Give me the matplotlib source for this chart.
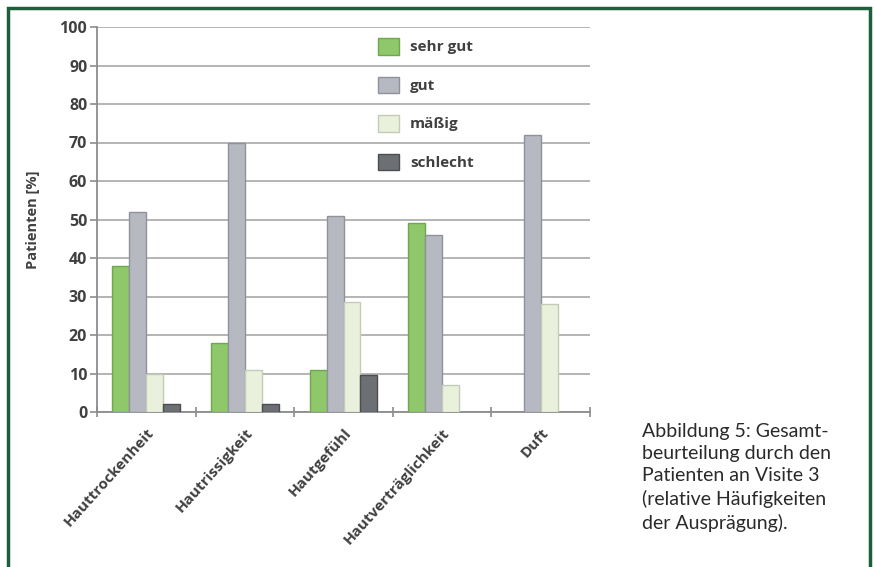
import numpy as np
import matplotlib
matplotlib.use('Agg')
import matplotlib.pyplot as plt
from matplotlib.patches import Rectangle

categories = ['Hauttrockenheit', 'Hautrissigkeit', 'Hautgefühl', 'Hautverträglichkeit', 'Duft']
series_names = ['sehr gut', 'gut', 'mäßig', 'schlecht']
sehr_gut = [38, 18, 11, 49, 0]
gut = [52, 70, 51, 46, 72]
maessig = [10, 11, 28.5, 7, 28]
schlecht = [2, 2, 9.5, 0, 0]
y_ticks = [0, 10, 20, 30, 40, 50, 60, 70, 80, 90, 100]
caption = ('Abbildung 5: Gesamt-\nbeurteilung durch den\nPatienten an Visite 3\n'
           '(relative Häufigkeiten\nder Ausprägung).')

faces = ['#8fc86b', '#b6b8c2', '#e9f0db', '#6c6f73']
edges = ['#6fa64f', '#8f919b', '#c4cbb6', '#4b4d50']
txt = '#404040'
chart_font = ['Open Sans', 'DejaVu Sans']

plt.rcParams['font.family'] = ['Lato', 'DejaVu Sans']

fig = plt.figure(figsize=(8.75, 5.67), dpi=100)
W, H = 875, 567
ax = fig.add_axes([97 / W, (H - 412) / H, 493 / W, 385 / H])

x = np.arange(len(categories))
bw = 0.172
for i, vals in enumerate([sehr_gut, gut, maessig, schlecht]):
    ec = [edges[i] if v > 0 else 'none' for v in vals]
    ax.bar(x + (i - 1.5) * bw, vals, bw, color=faces[i], edgecolor=ec,
           linewidth=1.0, label=series_names[i], zorder=3)

ax.set_xlim(-0.5, len(categories) - 0.5)
ax.set_ylim(0, 100)
ax.set_yticks(y_ticks)
ax.yaxis.grid(True, color='#b4b4b4', lw=1.4, zorder=0)
ax.set_axisbelow(True)

for s in ['top', 'right']:
    ax.spines[s].set_visible(False)
for s in ['left', 'bottom']:
    ax.spines[s].set_color('#8c8c8c')
    ax.spines[s].set_linewidth(1.3)

ax.set_xticks(x)
ax.set_xticklabels(categories, rotation=48, ha='right', va='top', rotation_mode='anchor',
                   fontsize=11, fontweight='bold', color=txt, family=chart_font)
ax.tick_params(axis='x', which='major', length=0, pad=10)
ax.set_xticks(np.arange(-0.5, len(categories)), minor=True)
ax.tick_params(axis='x', which='minor', length=7, width=1.2, color='#8c8c8c', direction='inout')
ax.tick_params(axis='y', length=5, width=1.2, color='#8c8c8c', labelsize=11.5, labelcolor=txt, pad=2)
for lab in ax.get_yticklabels():
    lab.set_fontweight('bold')
    lab.set_family(chart_font)

ax.set_ylabel('Patienten [%]', fontsize=10.5, fontweight='bold', color=txt, family=chart_font)
ax.yaxis.set_label_coords((40 - 97) / 493, 0.5)

leg = ax.legend(loc='upper left', bbox_to_anchor=((378 - 97) / 493, (412 - 38) / 385),
                frameon=False, borderpad=0, borderaxespad=0, handlelength=1.35,
                handleheight=1.3, handletextpad=0.75, labelspacing=1.43,
                prop={'size': 11, 'weight': 'bold', 'family': chart_font})
for t in leg.get_texts():
    t.set_color(txt)

fig.text(642 / W, (H - 423) / H, caption, fontsize=14, color='#2a2a2a',
         va='top', ha='left', linespacing=1.37)

# green frame, open at the bottom
fig.patches.append(Rectangle((8 / W, -0.05), 862 / W, (H - 8) / H + 0.05,
                             transform=fig.transFigure, fill=False,
                             edgecolor='#1d5e3c', linewidth=2.5))

plt.savefig('out.png', dpi=100)
